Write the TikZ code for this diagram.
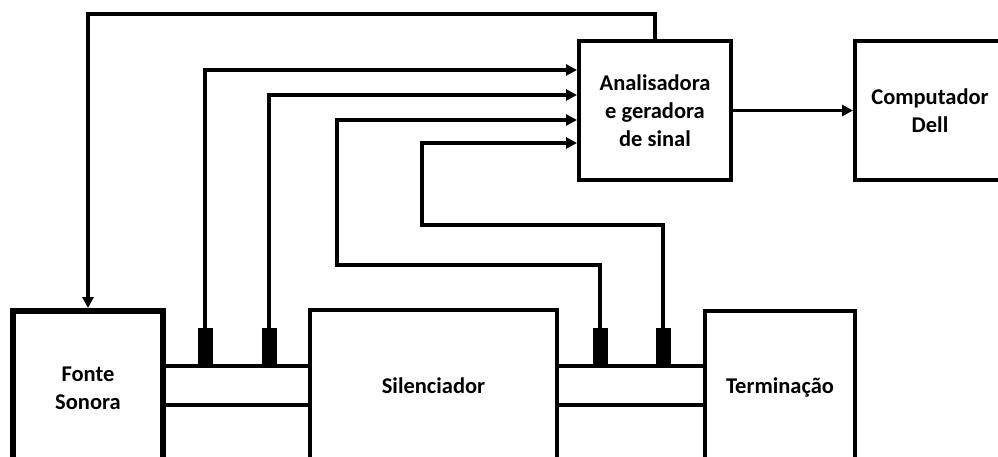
\documentclass[tikz,border=0pt]{standalone}
\usepackage{fontspec}
\setmainfont{Carlito}
\usetikzlibrary{arrows.meta}
\begin{document}
\begin{tikzpicture}[x=1pt,y=-1pt,
  box/.style={draw,line width=4pt,rectangle,inner sep=0pt,align=center,font=\bfseries\fontsize{22.5}{28}\selectfont},
  thickbox/.style={box,line width=6pt},
  sensor/.style={fill=black,draw=none,rectangle,minimum width=15pt,minimum height=38pt,inner sep=0pt},
  wire/.style={line width=3.8pt},
  arr/.style={wire,-{Triangle[length=11pt,width=11pt]}}]
\useasboundingbox (0,0) rectangle (998,457);
% boxes
\node[thickbox,minimum width=150pt,minimum height=154pt] (fonte) at (88,388) {Fonte\\Sonora};
\node[box,minimum width=247pt,minimum height=152pt] (sil) at (433.5,386) {Silenciador};
\node[box,minimum width=150pt,minimum height=152pt] (term) at (780,387) {Termina\c{c}\~ao};
\node[box,minimum width=152pt,minimum height=139pt] (ana) at (655,110.5) {Analisadora\\e geradora\\de sinal};
\node[box,minimum width=150pt,minimum height=139pt] (comp) at (930,110.5) {Computador\\Dell};
% pipes
\coordinate (pT) at (0,366);
\coordinate (pB) at (0,405);
\draw[wire] (fonte.east |- pT) -- (sil.west |- pT);
\draw[wire] (fonte.east |- pB) -- (sil.west |- pB);
\draw[wire] (sil.east |- pT) -- (term.west |- pT);
\draw[wire] (sil.east |- pB) -- (term.west |- pB);
% sensors
\node[sensor] (s1) at (205,347) {};
\node[sensor] (s2) at (269,347) {};
\node[sensor] (s3) at (600,347) {};
\node[sensor] (s4) at (663,347) {};
% input coordinates
\coordinate (in1) at (0,70);
\coordinate (in2) at (0,95);
\coordinate (in3) at (0,120);
\coordinate (in4) at (0,143);
\coordinate (b3) at (337,265);
\coordinate (b4) at (422,225);
\coordinate (top) at (0,14);
% connectors
\draw[arr] (s1.north) |- (ana.west |- in1);
\draw[arr] (s2.north) |- (ana.west |- in2);
\draw[arr] (s3.north) |- (b3) |- (ana.west |- in3);
\draw[arr] (s4.north) |- (b4) |- (ana.west |- in4);
\draw[arr] (ana.north) |- (fonte.north |- top) -- (fonte.north);
\draw[arr] (ana.east) -- (comp.west);
\end{tikzpicture}
\end{document}
